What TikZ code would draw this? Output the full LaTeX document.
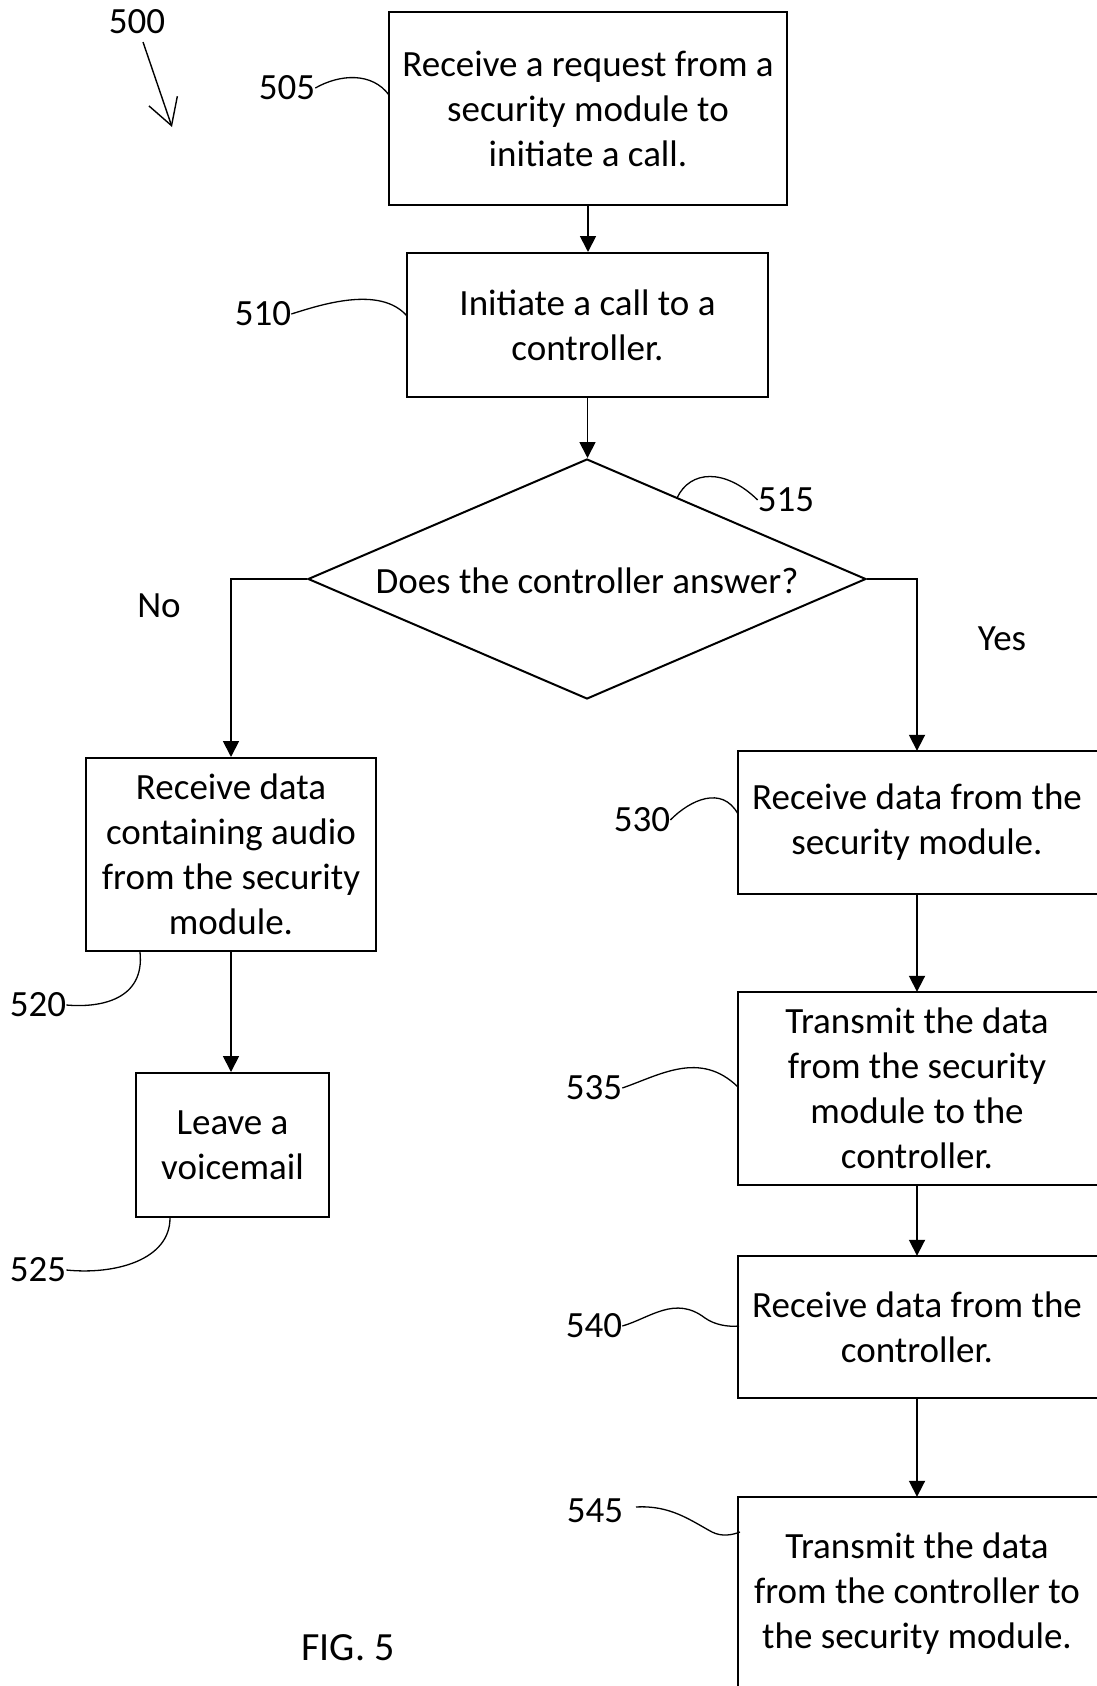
\documentclass[tikz,border=0pt]{standalone}
\usepackage{fontspec}
\setmainfont{Carlito}
\usetikzlibrary{arrows.meta,shapes.geometric}
\begin{document}
\begin{tikzpicture}[x=1pt,y=-1pt,
  font=\fontsize{37pt}{45pt}\selectfont,
  box/.style={draw, line width=2pt, rectangle, align=center, inner sep=0pt},
  openbox/.style={rectangle, align=center, inner sep=0pt, minimum width=358pt},
  edge/.style={line width=2pt},
  arr/.style={line width=1.8pt, -{Triangle[length=16pt,width=16pt]}},
  lead/.style={line width=1.3pt},
  tag/.style={inner sep=0pt}]
\useasboundingbox (0,0) rectangle (1097,1686);

% main column
\node[box, minimum width=398pt, minimum height=193pt] (b505) at (588,108.5)
  {Receive a request from a\\security module to\\initiate a call.};
\node[box, minimum width=361pt, minimum height=144pt] (b510) at (587.5,325)
  {Initiate a call to a\\controller.};
\node[diamond, draw, line width=2pt, inner sep=0pt, minimum width=558pt, minimum height=240pt] (dec) at (587,579) {};
\node[tag] (qtext) at (587,581) {Does the controller answer?};

% "no" branch
\node[box, minimum width=290pt, minimum height=193pt] (b520) at (231,854.5)
  {Receive data\\containing audio\\from the security\\module.};
\node[box, minimum width=193pt, minimum height=144pt] (b525) at (232.5,1145)
  {Leave a\\voicemail};

% "yes" branch (boxes run past the right edge)
\node[openbox, minimum height=143pt] (b530) at (917,822.5)
  {Receive data from the\\security module.};
\node[openbox, minimum height=193pt] (b535) at (917,1088.5)
  {Transmit the data\\from the security\\module to the\\controller.};
\node[openbox, minimum height=142pt] (b540) at (917,1327)
  {Receive data from the\\controller.};
\node[openbox, minimum height=194pt] (b545) at (917,1594)
  {Transmit the data\\from the controller to\\the security module.};
\foreach \b in {b530,b535,b540,b545}
  \draw[edge] ([xshift=60pt]\b.north east) -- (\b.north west) -- (\b.south west) -- ([xshift=60pt]\b.south east);

% connectors
\draw[arr] (b505.south) -- (b505.south |- b510.north);
\draw[arr] (b510.south) -- (b510.south |- dec.north);
\draw[arr] (dec.west) -| (b520.north);
\draw[arr] (dec.east) -| (b530.north);
\draw[arr] (b520.south) -- (b520.south |- b525.north);
\draw[arr] (b530.south) -- (b535.north);
\draw[arr] (b535.south) -- (b540.north);
\draw[arr] (b540.south) -- (b545.north);

% branch labels
\node[tag] (no) at (159,606) {No};
\node[tag] (yes) at (1002,639) {Yes};

% figure reference and its arrow
\node[tag] (l500) at (137,22) {500};
\coordinate (p500) at (172,127);
\draw[lead, line width=1.4pt, -{Straight Barb[length=26pt,width=30pt]}] (143,42) -- (p500);

% reference numerals with lead lines
\node[tag] (l505) at (287,88) {505};
\coordinate (c505) at (389,95);
\draw[lead] (l505.east) .. controls (340,74) and (372,72) .. (c505);

\node[tag] (l510) at (263,314) {510};
\coordinate (c510) at (407,316);
\draw[lead] (l510.east) .. controls (320,305) and (380,285) .. (c510);

\node[tag] (l515) at (786,500) {515};
\coordinate (c515) at (677,498);
\draw[lead] (c515) .. controls (690,470) and (725,468) .. (l515.west);

\node[tag] (l520) at (38,1005) {520};
\coordinate (c520) at (140,952);
\draw[lead] (l520.east) .. controls (100,1008) and (145,1000) .. (c520);

\node[tag] (l525) at (38,1270) {525};
\coordinate (c525) at (170,1218);
\draw[lead] (l525.east) .. controls (115,1275) and (170,1260) .. (c525);

\node[tag] (l530) at (642,820) {530};
\coordinate (c530) at (738,814);
\draw[lead] (l530.east) .. controls (690,800) and (722,785) .. (c530);

\node[tag] (l535) at (594,1088) {535};
\coordinate (c535) at (738,1087);
\draw[lead] (l535.east) .. controls (660,1075) and (700,1050) .. (c535);

\node[tag] (l540) at (594,1326) {540};
\coordinate (c540) at (739,1326);
\draw[lead] (l540.east) .. controls (650,1318) and (675,1295) .. (705,1318) .. controls (715,1325) and (728,1327) .. (c540);

\node[tag] (l545) at (595,1511) {545};
\coordinate (c545) at (740,1532);
\draw[lead] (636,1507) .. controls (670,1505) and (690,1520) .. (712,1532) .. controls (722,1537) and (732,1535) .. (c545);

\node[tag, font=\fontsize{40pt}{48pt}\selectfont] (fig) at (348,1648) {FIG. 5};
\end{tikzpicture}
\end{document}
